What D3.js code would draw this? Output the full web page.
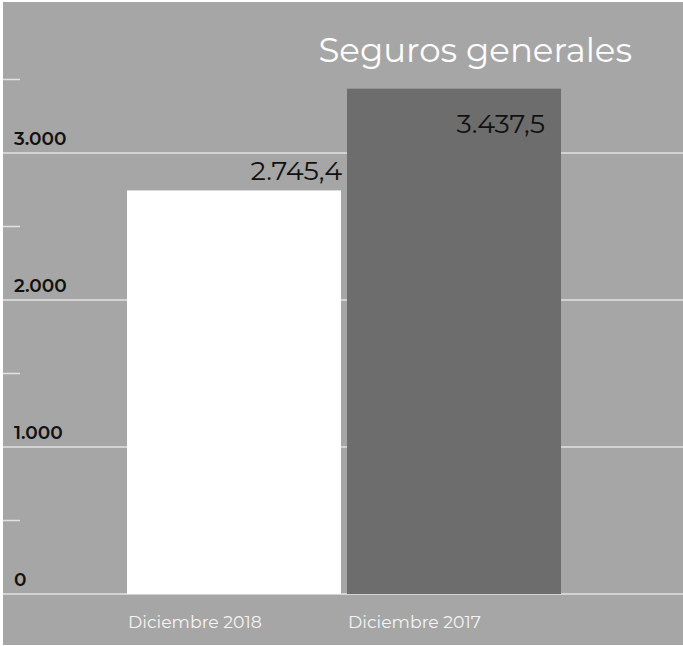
<!DOCTYPE html>
<html><head><meta charset="utf-8">
<script src="https://cdn.jsdelivr.net/npm/d3@7"></script>
<style>body{margin:0;background:#fff}svg{display:block}</style>
</head><body>
<script>
const categories = ["Diciembre 2018", "Diciembre 2017"];
const values = [2745.4, 3437.5];
const valueLabels = ["2.745,4", "3.437,5"];
const majorTicks = [0, 1000, 2000, 3000];
const tickLabels = ["0", "1.000", "2.000", "3.000"];
const minorTicks = [500, 1500, 2500, 3500];
const title = "Seguros generales";
const barColors = ["#ffffff", "#6d6d6d"];

const W = 683, H = 646;
const svg = d3.select("body").append("svg").attr("width", W).attr("height", H);
const font = "Montserrat, 'Open Sans', sans-serif";

svg.append("rect").attr("x", 3).attr("y", 2).attr("width", W - 3).attr("height", H - 3).attr("fill", "#a6a6a6");

const y = d3.scaleLinear().domain([0, 1000]).range([594, 447]);
const x = d3.scaleBand().domain(categories).range([124, 564]).paddingInner(6 / 220).paddingOuter(3 / 220);

// gridlines
svg.selectAll(".grid").data(majorTicks).join("line")
  .attr("x1", 3).attr("x2", W).attr("y1", d => y(d)).attr("y2", d => y(d))
  .attr("stroke", "#e2e2e2").attr("stroke-width", 1.5);
svg.selectAll(".minor").data(minorTicks).join("line")
  .attr("x1", 3).attr("x2", 20).attr("y1", d => y(d)).attr("y2", d => y(d))
  .attr("stroke", "#e2e2e2").attr("stroke-width", 1.5);

// tick labels
svg.selectAll(".tl").data(majorTicks).join("text")
  .attr("x", 14).attr("y", d => y(d) - 8)
  .attr("font-family", font).attr("font-weight", 600).attr("font-size", 18.5)
  .attr("fill", "#111").text((d, i) => tickLabels[i]);

// bars
svg.selectAll(".bar").data(values).join("rect")
  .attr("x", (d, i) => x(categories[i])).attr("width", x.bandwidth())
  .attr("y", d => y(d)).attr("height", d => y(0) - y(d))
  .attr("fill", (d, i) => barColors[i]);

// value labels
svg.selectAll(".vl").data(values).join("text")
  .attr("x", (d, i) => i === 0 ? x(categories[i]) + x.bandwidth() + 1 : x(categories[i]) + x.bandwidth() - 16)
  .attr("y", (d, i) => i === 0 ? y(d) - 10 : y(d) + 44)
  .attr("text-anchor", "end")
  .attr("font-family", font).attr("font-size", 27).attr("fill", "#111")
  .text((d, i) => valueLabels[i]);

// category labels
svg.selectAll(".cl").data(categories).join("text")
  .attr("x", d => x(d) + 1).attr("y", 628)
  .attr("font-family", font).attr("font-size", 17.3).attr("fill", "#f4f4f4")
  .text(d => d);

// title
svg.append("text").attr("x", 632).attr("y", 62).attr("text-anchor", "end")
  .attr("font-family", font).attr("font-size", 34).attr("fill", "#ffffff")
  .text(title);
</script>
</body></html>
